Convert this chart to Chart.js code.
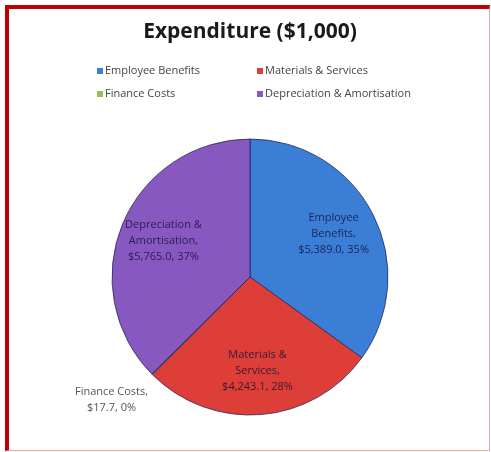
<!DOCTYPE html>
<html>
<head>
<meta charset="utf-8">
<title>Expenditure</title>
<script src="https://cdn.jsdelivr.net/npm/chart.js@4.4.1/dist/chart.umd.min.js"></script>
<style>
  html, body { margin: 0; padding: 0; background: #fff; }
  body { width: 491px; height: 452px; position: relative; overflow: hidden; }
  .frame {
    position: absolute; left: 5px; top: 5px; width: 480px; height: 441px;
    border-top: 4px solid #c00000; border-left: 4px solid #c00000;
    border-right: 1px solid #eaa8a8; border-bottom: 1px solid #eaa8a8;
    background: #fff;
  }
  canvas { position: absolute; left: 0; top: 0; }
</style>
</head>
<body>
<div class="frame"></div>
<canvas id="expenditureChart" width="491" height="452"></canvas>
<script>
// Expenditure breakdown, in $1,000
const categories = ['Employee Benefits', 'Materials & Services', 'Finance Costs', 'Depreciation & Amortisation'];
const amounts = [5389.0, 4243.1, 17.7, 5765.0];
const sliceColors = ['#3a7ed6', '#de3e38', '#9bbb59', '#8758c0'];
// wrapped category names used inside the slice labels
const labelLines = [
  ['Employee', 'Benefits,'],
  ['Materials &', 'Services,'],
  ['Finance Costs,'],
  ['Depreciation &', 'Amortisation,']
];

const fmtMoney = v => '$' + v.toLocaleString('en-US', { minimumFractionDigits: 1, maximumFractionDigits: 1 });

// 2x2 legend grid under the title
const gridLegend = {
  id: 'gridLegend',
  afterDraw(chart, args, opts) {
    const ctx = chart.ctx;
    const ds = chart.data.datasets[0];
    ctx.save();
    ctx.font = opts.font;
    ctx.textBaseline = 'middle';
    ctx.textAlign = 'left';
    chart.data.labels.forEach((label, i) => {
      const x = opts.columns[i % 2];
      const y = opts.rows[Math.floor(i / 2)];
      ctx.fillStyle = ds.backgroundColor[i];
      ctx.fillRect(x, y - 3, 6, 6);
      ctx.fillStyle = opts.color;
      ctx.fillText(label, x + 8, y);
    });
    ctx.restore();
  }
};

// name, value and percent printed on each slice (outside for tiny ones)
const sliceLabels = {
  id: 'sliceLabels',
  afterDatasetsDraw(chart, args, opts) {
    const ctx = chart.ctx;
    const meta = chart.getDatasetMeta(0);
    const data = chart.data.datasets[0].data;
    const total = data.reduce((a, b) => a + b, 0);
    ctx.save();
    ctx.font = opts.font;
    ctx.textAlign = 'center';
    ctx.textBaseline = 'middle';
    meta.data.forEach((arc, i) => {
      const p = arc.getProps(['x', 'y', 'startAngle', 'endAngle', 'outerRadius'], true);
      const mid = (p.startAngle + p.endAngle) / 2;
      const cos = Math.cos(mid), sin = Math.sin(mid);
      const pct = Math.round(data[i] / total * 100);
      const outside = data[i] / total < 0.02;
      const lines = labelLines[i].concat(fmtMoney(data[i]) + ', ' + pct + '%');
      let cx, cy;
      if (outside) {
        // anchor just past the rim, then push the text block away from the pie
        const w = Math.max(...lines.map(t => ctx.measureText(t).width));
        const h = lines.length * opts.lineHeight;
        cx = p.x + cos * p.outerRadius * 1.15 + cos * w / 2;
        cy = p.y + sin * p.outerRadius * 1.15 + sin * h / 2;
      } else {
        cx = p.x + cos * p.outerRadius * 0.68;
        cy = p.y + sin * p.outerRadius * 0.68;
      }
      ctx.fillStyle = outside ? '#555555' : 'rgba(22, 16, 55, 0.82)';
      lines.forEach((t, k) => {
        ctx.fillText(t, cx, cy + (k - (lines.length - 1) / 2) * opts.lineHeight);
      });
    });
    ctx.restore();
  }
};

new Chart(document.getElementById('expenditureChart'), {
  type: 'pie',
  data: {
    labels: categories,
    datasets: [{
      data: amounts,
      backgroundColor: sliceColors,
      borderColor: 'rgba(35, 35, 90, 0.75)',
      borderWidth: 1
    }]
  },
  options: {
    responsive: false,
    animation: false,
    layout: { padding: { top: 0, bottom: 36.5, left: 100, right: 91 } },
    plugins: {
      legend: { display: false },
      tooltip: { enabled: false },
      title: {
        display: true,
        text: 'Expenditure ($1,000)',
        color: '#1a1a1a',
        font: { family: 'Open Sans', size: 21, weight: 'bold', lineHeight: 1.2 },
        padding: { top: 19, bottom: 94.3 }
      },
      gridLegend: {
        font: '11px "Open Sans"',
        color: '#444444',
        columns: [97, 257],
        rows: [71, 94]
      },
      sliceLabels: {
        font: '11px "Open Sans"',
        lineHeight: 16
      }
    }
  },
  plugins: [gridLegend, sliceLabels]
});
</script>
</body>
</html>
